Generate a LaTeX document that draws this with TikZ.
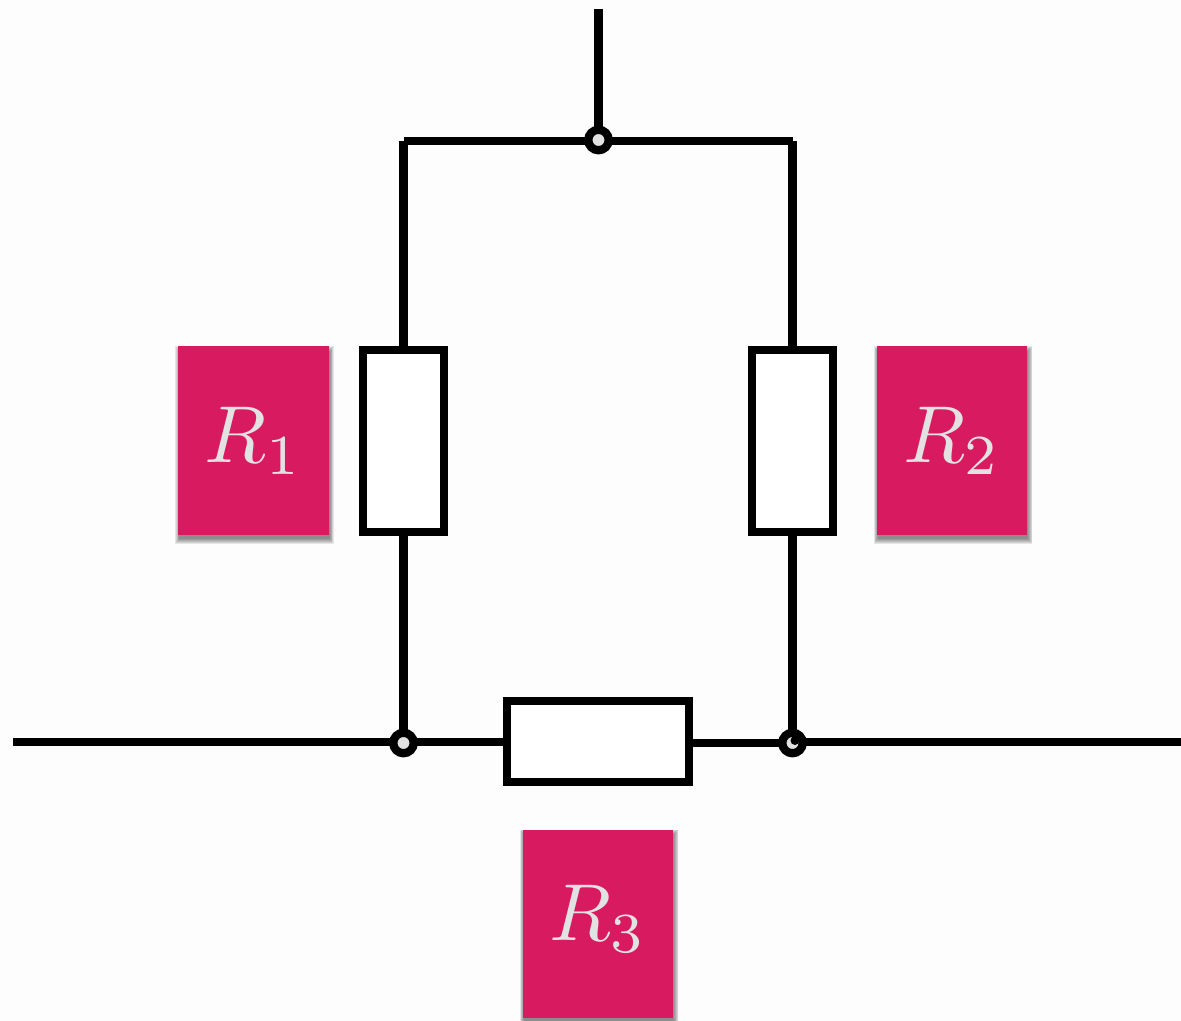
\documentclass[tikz,border=0pt]{standalone}
\usepackage{amsmath,amssymb}
\usepackage{xcolor}
\usepackage{tikz}
\usetikzlibrary{shadows}
\definecolor{labelred}{HTML}{D81B60}
\definecolor{labelgray}{HTML}{E2E2E2}
\definecolor{paper}{HTML}{FDFDFD}
\tikzset{
  wire/.style={line width=4.7pt},
  resistor/.style={draw, line width=4.7pt, fill=white, minimum width=1.62cm, minimum height=3.63cm, inner sep=0pt, outer sep=0pt},
  junction/.style={circle, draw, line width=4.7pt, fill=labelgray, minimum size=0.41cm, inner sep=0pt, outer sep=0pt},
  softshadow/.style={general shadow={fill=black, opacity=0.09, shadow xshift=0.02cm, shadow yshift=-0.09cm, shadow scale=#1}},
  labelbox/.style={softshadow=1.05, softshadow=1.04, softshadow=1.03, softshadow=1.02, softshadow=1.01, softshadow=1.0, fill=labelred, text=labelgray, minimum width=3.02cm, minimum height=3.78cm, inner sep=0pt},
}
\begin{document}
\begin{tikzpicture}[x=0.02cm, y=-0.02cm]
  \fill[paper] (0,0) rectangle (1181,1021);
  \useasboundingbox (0,0) rectangle (1181,1021);
  \coordinate (top) at (598.5,9);
  \coordinate (left) at (13,741.7);
  \coordinate (right) at (1181,741.7);
  \coordinate (cornerl) at (403.5,141);
  \coordinate (cornerr) at (792.5,141);
  \coordinate (tapl) at (403.5,743);
  \coordinate (tapr) at (792.5,741.7);
  \coordinate (tapm) at (792.5,742.7);
  % resistors
  \node[resistor] (r1) at (403.5,441) {};
  \node[resistor] (r2) at (792.5,441) {};
  \node[resistor, minimum width=3.63cm, minimum height=1.62cm] (r3) at (598,741.7) {};
  % wires
  \draw[wire] (top) -- (598.5,140);
  \draw[wire] (cornerl) -- (cornerr);
  \draw[wire] (cornerl) -- (r1.north);
  \draw[wire] (r1.south) -- (tapl);
  \draw[wire] (cornerr) -- (r2.north);
  \draw[wire] (r2.south) -- (tapm);
  \draw[wire] (left) -- (r3.west);
  \draw[wire] (r3.east |- tapm) -- (tapm);
  \draw[wire] (tapr) -- (right);
  % junctions
  \node[junction] (j1) at (598.5,140) {};
  \node[junction] (j2) at (tapl) {};
  \node[junction] (j3) at (792.5,743) {};
  \fill (795,740.5) circle [radius=4.5];
  % labels
  \node[labelbox] (l1) at (253.5,440.5) {\scalebox{4.6}{$R_1$}};
  \node[labelbox] (l2) at (952,440.5) {\scalebox{4.6}{$R_2$}};
  \node[labelbox] (l3) at (598,924) {\raisebox{0.11cm}[\height][\depth]{\scalebox{4.6}{$R_3$}}};
\end{tikzpicture}
\end{document}
